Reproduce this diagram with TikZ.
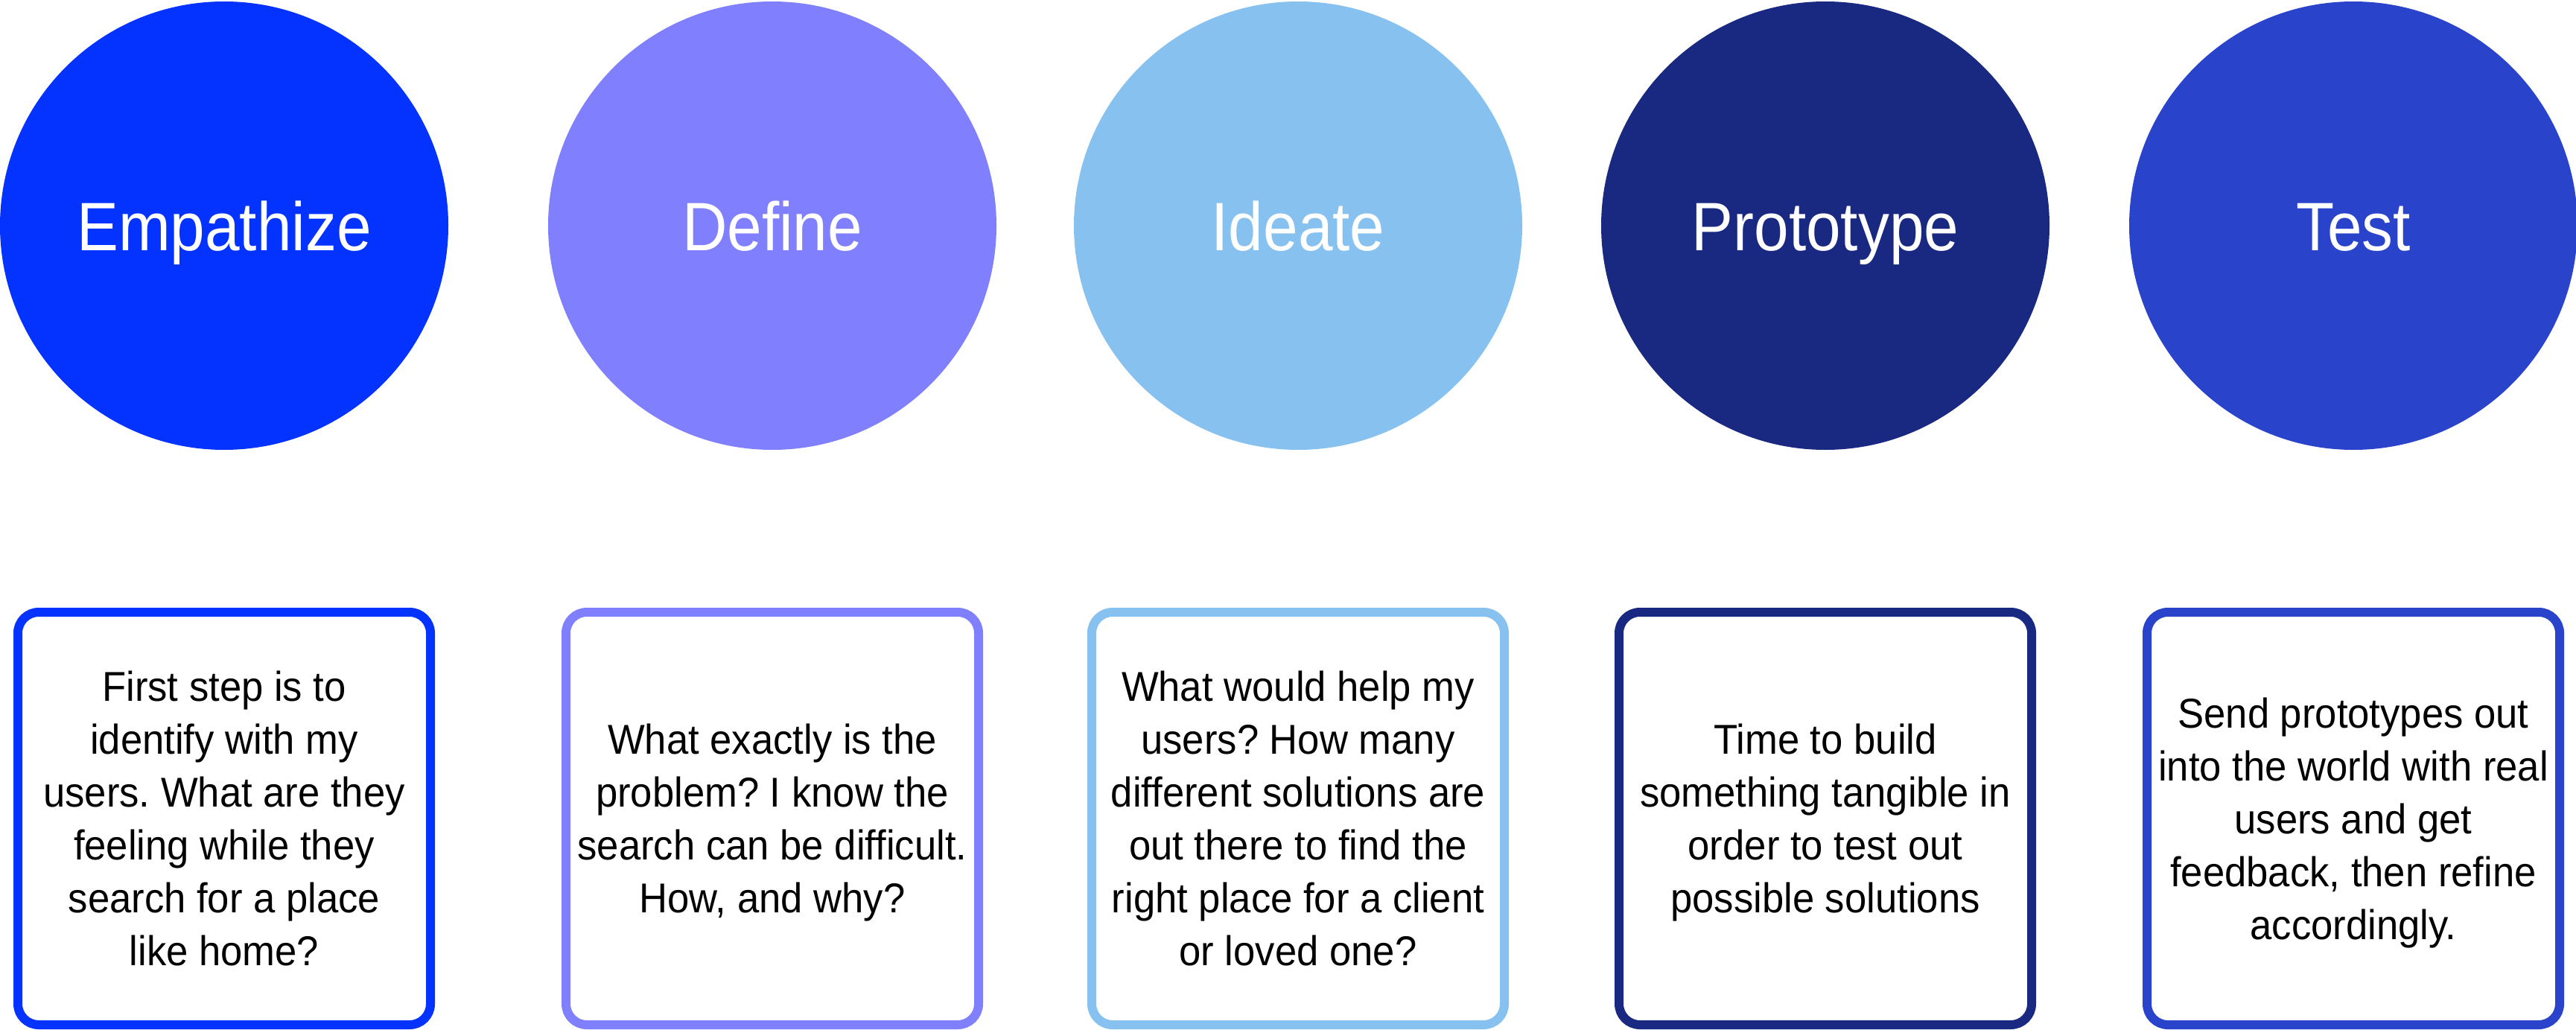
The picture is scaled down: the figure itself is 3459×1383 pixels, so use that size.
\documentclass[tikz,border=0pt]{standalone}
\usepackage{fontspec}
\setmainfont{Liberation Sans}
\newfontfamily\bodyfont[FakeStretch=0.94]{Liberation Sans}
\newfontfamily\labelfont[FakeStretch=0.91]{Liberation Sans}
\definecolor{cEmp}{HTML}{0433FF}
\definecolor{cDef}{HTML}{8080FF}
\definecolor{cIde}{HTML}{87C1F0}
\definecolor{cPro}{HTML}{192982}
\definecolor{cTes}{HTML}{2944CB}
\newcommand{\nodepth}[1]{\raisebox{0pt}[\height][0pt]{#1}}
\frenchspacing
\begin{document}
\begin{tikzpicture}[x=1pt,y=-1pt,
  phase/.style={circle, fill=#1, minimum size=602pt, inner sep=0pt, text=white,
    font=\labelfont\fontsize{92}{110}\selectfont, text height=66pt, text depth=0pt},
  card/.style={draw=#1, line width=12pt, rounded corners=28pt, fill=white,
    minimum width=554pt, minimum height=554pt, inner sep=0pt, align=center,
    font=\bodyfont\frenchspacing\fontsize{56}{71}\selectfont}]
\useasboundingbox (0,0) rectangle (3459,1383);
\node[phase=cEmp] (c1) at (301,303) {Empathize};
\node[phase=cDef] (c2) at (1037,303) {Define};
\node[phase=cIde] (c3) at (1743,303) {Ideate};
\node[phase=cPro] (c4) at (2451,303) {Prototype};
\node[phase=cTes] (c5) at (3160,303) {Test};
\node[card=cEmp] (b1) at (301,1099) {First step is to\\identify with my\\users. What are they\\feeling while they\\search for a place\\like home?};
\node[card=cDef] (b2) at (1037,1099) {What exactly is the\\problem? I know the\\search can be difficult.\\\nodepth{How, and why?}};
\node[card=cIde] (b3) at (1743,1099) {What would help my\\users? How many\\different solutions are\\out there to find the\\right place for a client\\or loved one?};
\node[card=cPro] (b4) at (2451,1099) {Time to build\\something tangible in\\order to test out\\\nodepth{possible solutions}};
\node[card=cTes] (b5) at (3160,1099) {Send prototypes out\\into the world with real\\users and get\\feedback, then refine\\\nodepth{accordingly.}};
\end{tikzpicture}
\end{document}
